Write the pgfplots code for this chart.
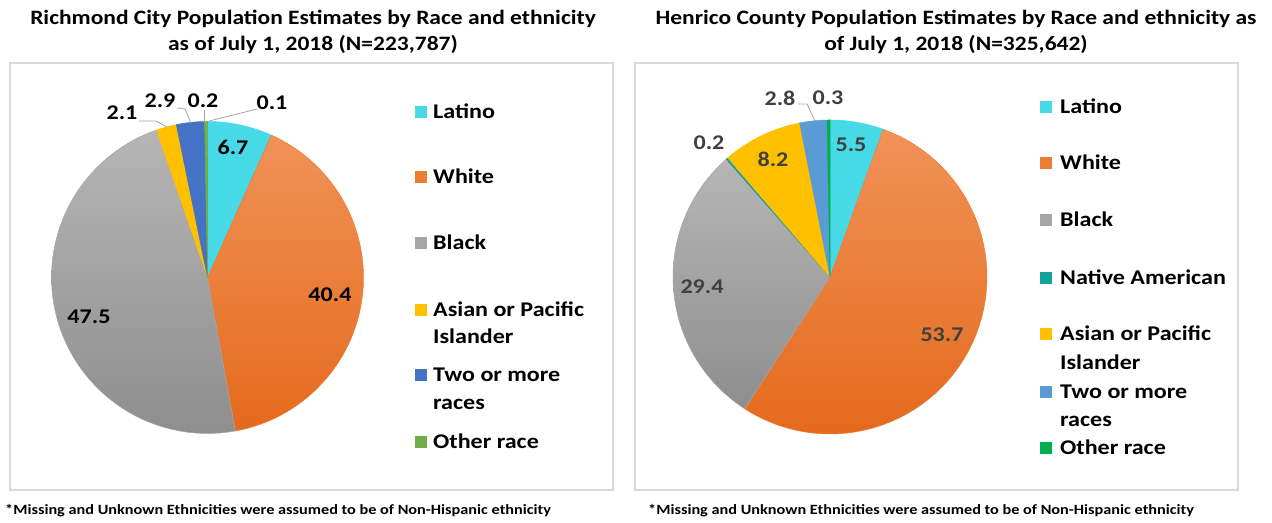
\documentclass[border=0pt]{standalone}
\usepackage{fontspec}
\setmainfont{Carlito}[FakeStretch=1.15]
\usepackage{pgfplots}
\pgfplotsset{compat=1.18}

\definecolor{cLat}{RGB}{72,217,230}
\definecolor{cWhiT}{RGB}{241,146,88}
\definecolor{cWhiB}{RGB}{228,106,28}
\definecolor{cWhi}{RGB}{237,125,49}
\definecolor{cBlaT}{RGB}{182,182,182}
\definecolor{cBlaB}{RGB}{142,142,142}
\definecolor{cBla}{RGB}{165,165,165}
\definecolor{cAsi}{RGB}{255,192,0}
\definecolor{cTwoL}{RGB}{68,114,196}
\definecolor{cOthL}{RGB}{112,173,71}
\definecolor{cNat}{RGB}{20,160,155}
\definecolor{cTwoR}{RGB}{91,155,213}
\definecolor{cOthR}{RGB}{0,176,80}
\definecolor{lblR}{RGB}{64,64,64}
\definecolor{frame}{RGB}{217,217,217}
\definecolor{leader}{RGB}{166,166,166}

\tikzset{
  sLat/.style={fill=cLat,draw=cLat},
  sWhi/.style={top color=cWhiT,bottom color=cWhiB,draw=cWhi},
  sBla/.style={top color=cBlaT,bottom color=cBlaB,draw=cBla},
  sAsi/.style={fill=cAsi,draw=cAsi},
  sTwoL/.style={fill=cTwoL,draw=cTwoL},
  sOthL/.style={fill=cOthL,draw=cOthL},
  sNat/.style={fill=cNat,draw=cNat},
  sTwoR/.style={fill=cTwoR,draw=cTwoR},
  sOthR/.style={fill=cOthR,draw=cOthR},
}

% values (percent) and slice styles, clockwise from 12 o'clock
\def\leftdata{6.7/sLat, 40.4/sWhi, 47.5/sBla, 2.1/sAsi, 2.9/sTwoL, 0.2/sOthL, 0.1/sOthL}
\def\lefttotal{99.9}
\def\rightdata{5.5/sLat, 53.7/sWhi, 29.4/sBla, 0.2/sNat, 8.2/sAsi, 2.8/sTwoR, 0.3/sOthR}
\def\righttotal{100.1}

\newcommand\piechart[2]{%
  \gdef\cumv{0}%
  \pgfmathsetmacro\degper{360/#1}%
  \foreach \pv/\ps in #2 {%
    \pgfmathsetmacro\angA{90-(\cumv+\pv)*\degper}%
    \pgfmathsetmacro\angB{90-\cumv*\degper}%
    \edef\tmp{\noexpand\addplot[\ps, line width=0.5bp, domain=\angA:\angB, samples=60, mark=none] ({cos(x)},{sin(x)}) -- (axis cs:0,0) -- cycle;}%
    \tmp
    \pgfmathsetmacro\newcum{\cumv+\pv}%
    \xdef\cumv{\newcum}%
  }%
}

\pgfplotsset{pieaxis/.style={anchor=center, scale only axis, hide axis, clip=false,
  xmin=-1, xmax=1, ymin=-1, ymax=1}}

\newcommand\lbl{\fontsize{21}{26}\selectfont\bfseries}
\newcommand\leg{\fontsize{21}{26}\selectfont\bfseries}

\begin{document}
\begin{tikzpicture}[x=1bp,y=1bp]
\useasboundingbox (0,0) rectangle (1272,523);

% frames
\draw[frame, line width=1.3bp] (10,33) rectangle (613,460);
\draw[frame, line width=1.3bp] (635,33) rectangle (1238,460);

% titles
\node[align=center, font=\fontsize{20.5}{26}\selectfont\bfseries] at (313,491)
  {Richmond City Population Estimates by Race and ethnicity\\as of July 1, 2018 (N=223,787)};
\node[align=center, font=\fontsize{20.5}{26}\selectfont\bfseries] at (956,491)
  {Henrico County Population Estimates by Race and ethnicity as\\of July 1, 2018 (N=325,642)};

% left pie
\begin{axis}[pieaxis, at={(207.5bp,245.5bp)}, width=312bp, height=312bp]
\piechart{\lefttotal}{\leftdata}
\end{axis}

% right pie
\begin{axis}[pieaxis, at={(830bp,246bp)}, width=314bp, height=314bp]
\piechart{\righttotal}{\rightdata}
\end{axis}

% left data labels
\begin{scope}[every node/.style={font=\lbl, text=black, inner sep=0pt}]
\node at (233,376) {6.7};
\node at (330,228) {40.4};
\node at (89,206) {47.5};
\node at (122,410) {2.1};
\node at (160,422) {2.9};
\node at (203,422) {0.2};
\node at (272,420) {0.1};
\end{scope}
\draw[leader, line width=0.8bp] (139,402) -- (156,402) -- (167,396);
\draw[leader, line width=0.8bp] (177,415) -- (185,414) -- (191,400);
\draw[leader, line width=0.8bp] (204,413) -- (204,401);
\draw[leader, line width=0.8bp] (257,414) -- (209,402);

% right data labels
\begin{scope}[every node/.style={font=\lbl, text=lblR, inner sep=0pt}]
\node at (851,378) {5.5};
\node at (942,188) {53.7};
\node at (702,236) {29.4};
\node at (709,380) {0.2};
\node at (773,364) {8.2};
\node at (780,425) {2.8};
\node at (828,425) {0.3};
\end{scope}
\draw[leader, line width=0.8bp] (798,419) -- (807,419) -- (815,402);

% left legend
\begin{scope}[every node/.style={font=\leg, anchor=base west, inner sep=0pt}]
\fill[cLat]  (415,405) rectangle ++(12,12);
\node at (433,404) {Latino};
\fill[cWhi]  (415,340) rectangle ++(12,12);
\node at (433,339) {White};
\fill[cBla]  (415,274) rectangle ++(12,12);
\node at (433,273) {Black};
\fill[cAsi]  (415,207) rectangle ++(12,12);
\node at (433,206) {Asian or Pacific};
\node at (433,179) {Islander};
\fill[cTwoL] (415,142) rectangle ++(12,12);
\node at (433,141) {Two or more};
\node at (433,113) {races};
\fill[cOthL] (415,75) rectangle ++(12,12);
\node at (433,74) {Other race};
\end{scope}

% right legend
\begin{scope}[every node/.style={font=\leg, anchor=base west, inner sep=0pt}]
\fill[cLat]  (1040,410) rectangle ++(12,12);
\node at (1060,409) {Latino};
\fill[cWhi]  (1040,354) rectangle ++(12,12);
\node at (1060,353) {White};
\fill[cBla]  (1040,297) rectangle ++(12,12);
\node at (1060,296) {Black};
\fill[cNat]  (1040,239) rectangle ++(12,12);
\node at (1060,238) {Native American};
\fill[cAsi]  (1040,183) rectangle ++(12,12);
\node at (1060,182) {Asian or Pacific};
\node at (1060,153) {Islander};
\fill[cTwoR] (1040,125) rectangle ++(12,12);
\node at (1060,124) {Two or more};
\node at (1060,96) {races};
\fill[cOthR] (1040,69) rectangle ++(12,12);
\node at (1060,68) {Other race};
\end{scope}

% footnotes
\node[anchor=west, font=\fontsize{14.2}{16}\selectfont\bfseries, inner sep=0pt] at (5,12)
  {*Missing and Unknown Ethnicities were assumed to be of Non-Hispanic ethnicity};
\node[anchor=west, font=\fontsize{14.2}{16}\selectfont\bfseries, inner sep=0pt] at (648,12)
  {*Missing and Unknown Ethnicities were assumed to be of Non-Hispanic ethnicity};
\end{tikzpicture}
\end{document}
